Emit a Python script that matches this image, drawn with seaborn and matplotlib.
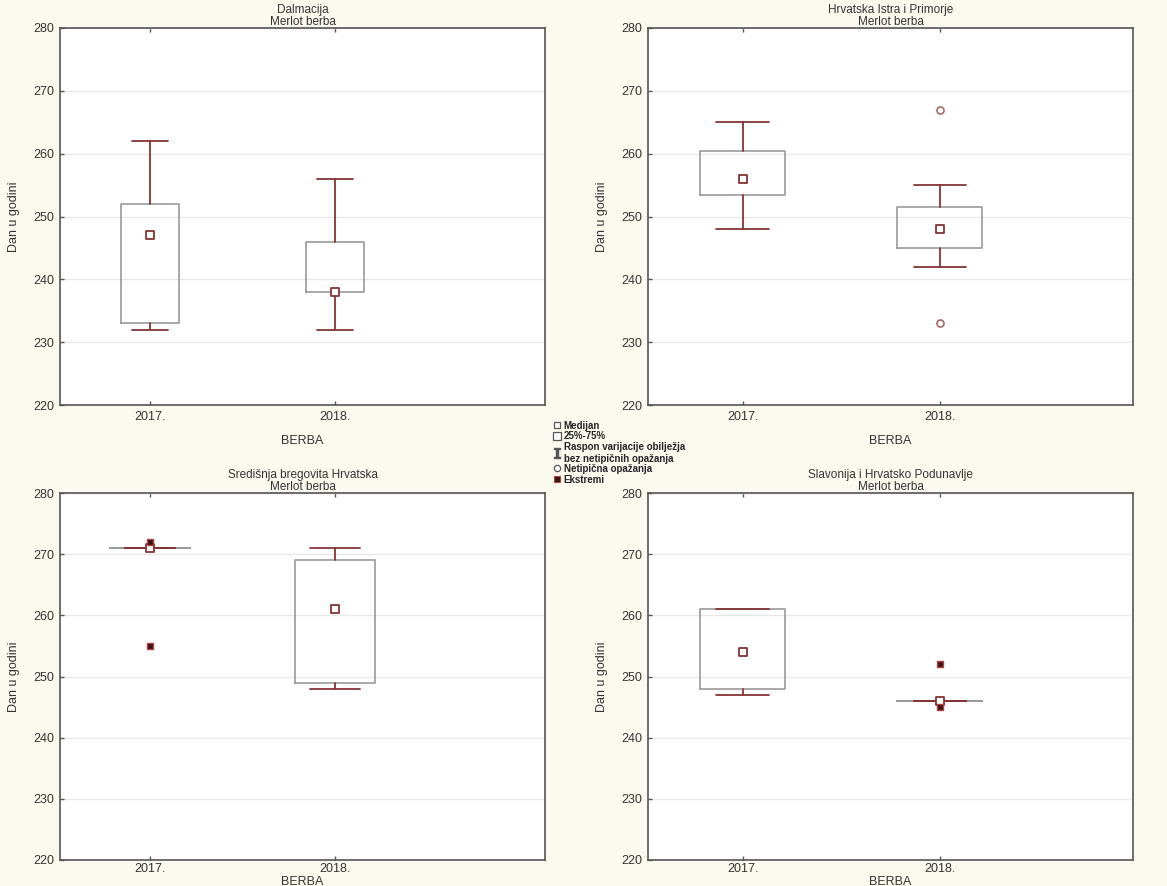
import numpy as np
import pandas as pd
import matplotlib
matplotlib.use("Agg")
import matplotlib.pyplot as plt
from matplotlib.lines import Line2D
from matplotlib.patches import Rectangle
import seaborn as sns

# podaci (dan u godini) po regijama i berbama
regije = ["Dalmacija", "Hrvatska Istra i Primorje",
          "Središnja bregovita Hrvatska", "Slavonija i Hrvatsko Podunavlje"]
berbe = ["2017.", "2018."]

donji_brk = [[232, 232], [248, 242], [271, 248], [247, 246]]
q1 = [[233, 238], [253.5, 245], [271, 249], [248, 246]]
medijan = [[247, 238], [256, 248], [271, 261], [254, 246]]
q3 = [[252, 246], [260.5, 251.5], [271, 269], [261, 246]]
gornji_brk = [[262, 256], [265, 255], [271, 271], [261, 246]]

# netipicna opazanja i ekstremi: (regija, berba, vrijednost)
netipicna = [(1, 1, 267), (1, 1, 233)]
ekstremi = [(2, 0, 272), (2, 0, 255), (3, 1, 252), (3, 1, 245)]

CREAM = "#fcf9ef"
RED = "#843434"
BOX = "#9a9a9a"

sns.set_style("white")
plt.rcParams["font.family"] = ["Liberation Sans", "DejaVu Sans"]

fig = plt.figure(figsize=(11.67, 8.86), dpi=100, facecolor=CREAM)

W, H = 1167, 886
# (lijevo, gore, dolje) u pikselima
okviri = [(60, 28, 405), (648, 28, 405), (60, 493, 860), (648, 493, 860)]
xlimovi = [(-0.486, 2.135), (-0.48, 1.98), (-0.486, 2.135), (-0.48, 1.98)]
sirine = [0.31, 0.43, 0.43, 0.43]

df_med = pd.DataFrame([(i, j, medijan[i][j]) for i in range(4) for j in range(2)],
                      columns=["regija", "poz", "vrijednost"])
df_net = pd.DataFrame(netipicna, columns=["regija", "poz", "vrijednost"])
df_ekst = pd.DataFrame(ekstremi, columns=["regija", "poz", "vrijednost"])

for i, reg in enumerate(regije):
    l, t, b = okviri[i]
    ax = fig.add_axes([l / W, 1 - b / H, 485 / W, (b - t) / H])
    ax.set_facecolor("white")
    ax.yaxis.grid(True, color="#e8e8e8", linewidth=1)
    ax.set_axisbelow(True)

    stats = []
    for j in range(2):
        stats.append(dict(med=medijan[i][j], q1=q1[i][j], q3=q3[i][j],
                          whislo=donji_brk[i][j], whishi=gornji_brk[i][j],
                          fliers=[]))
    ax.bxp(stats, positions=[0, 1], widths=sirine[i], showfliers=False,
           boxprops=dict(color=BOX, linewidth=1.2),
           whiskerprops=dict(color=RED, linewidth=1.3),
           capprops=dict(color=RED, linewidth=1.3),
           capwidths=sirine[i] * 0.62,
           medianprops=dict(linewidth=0), manage_ticks=False)

    sns.scatterplot(data=df_med[df_med.regija == i], x="poz", y="vrijednost",
                    marker="s", s=28, facecolor="white", edgecolor=RED,
                    linewidth=1.3, ax=ax, zorder=5)
    sub = df_net[df_net.regija == i]
    if len(sub):
        sns.scatterplot(data=sub, x="poz", y="vrijednost", marker="o", s=26,
                        facecolor="white", edgecolor="#a0605c", linewidth=1.1,
                        ax=ax, zorder=5)
    sub = df_ekst[df_ekst.regija == i]
    if len(sub):
        sns.scatterplot(data=sub, x="poz", y="vrijednost", marker="s", s=22,
                        color="#3a1414", edgecolor="#b04040", linewidth=1.0,
                        ax=ax, zorder=6)

    ax.set_xlim(*xlimovi[i])
    ax.set_ylim(220, 280)
    ax.set_xticks([0, 1])
    ax.set_xticklabels(berbe)
    ax.set_yticks(np.arange(220, 281, 10))
    ax.tick_params(axis="both", direction="in", length=3, width=1,
                   color="#555555", labelsize=9, labelcolor="#333333",
                   top=True, left=True, bottom=True, pad=4)
    ax.tick_params(axis="x", pad=2 if i >= 2 else 4)
    for sp in ax.spines.values():
        sp.set_color("#555555")
        sp.set_linewidth(1.2)
    ax.set_title(f"{reg}\nMerlot berba", fontsize=8.5, color="#333333",
                 linespacing=1.05, pad=2)
    ax.set_xlabel("BERBA", fontsize=9, color="#333333",
                  labelpad=1 if i >= 2 else 9)
    ax.set_ylabel("Dan u godini", fontsize=9, color="#333333", labelpad=10)

# legenda u sredini
rucke = [
    Line2D([], [], marker="s", linestyle="none", markersize=4.5,
           markerfacecolor="white", markeredgecolor="#555555", markeredgewidth=0.9),
    Rectangle((0, 0), 1, 1, facecolor="white", edgecolor="#555555", linewidth=0.9),
    Line2D([], [], marker="$\\mathtt{I}$", linestyle="none", markersize=7,
           color="#555555"),
    Line2D([], [], marker="o", linestyle="none", markersize=4.5,
           markerfacecolor="white", markeredgecolor="#555555", markeredgewidth=0.9),
    Line2D([], [], marker="s", linestyle="none", markersize=4.5,
           markerfacecolor="#3a1414", markeredgecolor="#b04040", markeredgewidth=0.8),
]
oznake = ["Medijan", "25%-75%", "Raspon varijacije obilježja\nbez netipičnih opažanja",
          "Netipična opažanja", "Ekstremi"]
fig.legend(rucke, oznake, loc="upper left", bbox_to_anchor=(553 / W, 1 - 421 / H),
           frameon=False, prop=dict(size=7, weight="bold"), handlelength=0.8,
           handleheight=0.9, handletextpad=0.3, labelspacing=0.05,
           borderpad=0, borderaxespad=0)

fig.savefig("out.png", dpi=100, facecolor=CREAM)
